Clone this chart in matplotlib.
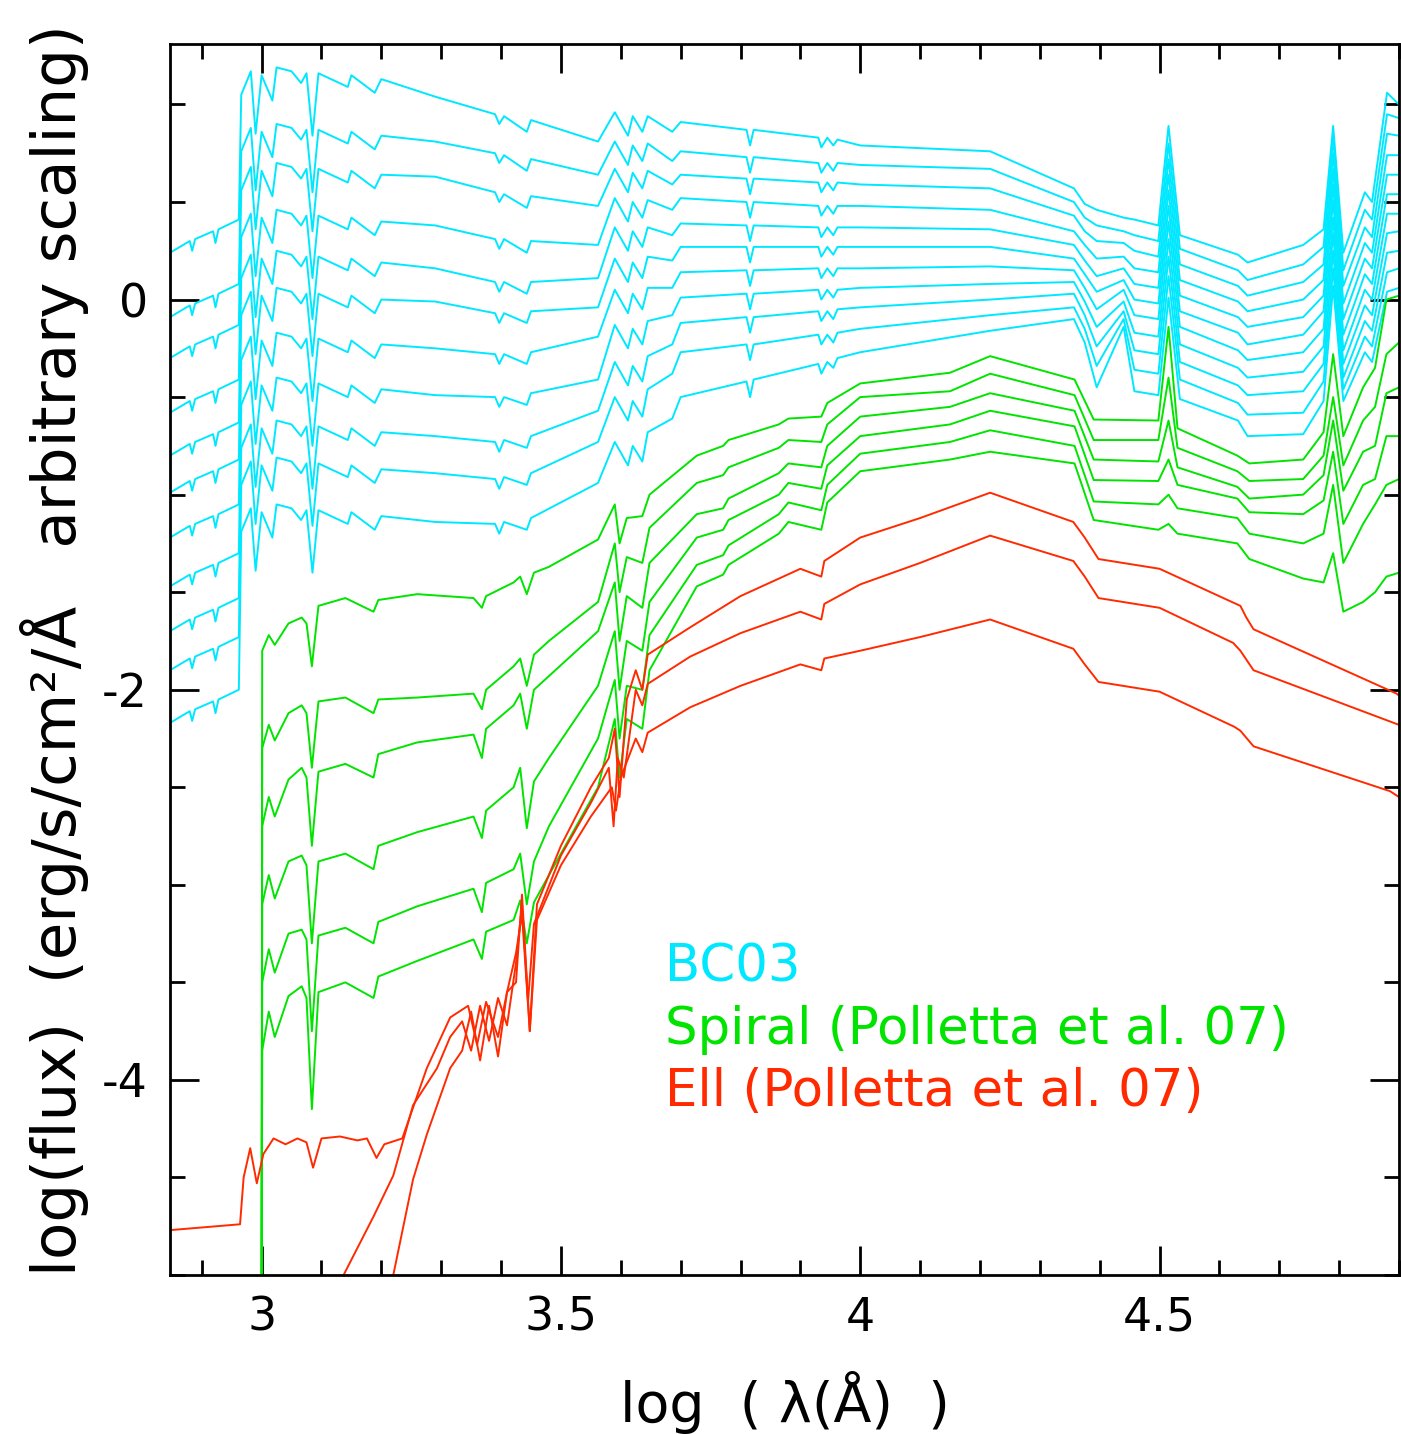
import numpy as np
import matplotlib
matplotlib.use("Agg")
import matplotlib.pyplot as plt
from matplotlib.ticker import MultipleLocator

# ---------------- data ----------------
# BC03 templates: shared log-wavelength knots, one row per knot, 11 curves per row
bc03_logwl = [2.847, 2.880, 2.884, 2.889, 2.919, 2.923, 2.928, 2.962, 2.966, 2.982,
              2.990, 3.000, 3.018, 3.025, 3.050, 3.066, 3.075, 3.085, 3.095, 3.144,
              3.150, 3.189, 3.200, 3.290, 3.390, 3.397, 3.405, 3.443, 3.450, 3.562,
              3.590, 3.612, 3.620, 3.636, 3.645, 3.686, 3.700, 3.810, 3.816, 3.822,
              3.930, 3.935, 3.945, 3.955, 3.962, 4.000, 4.217, 4.357, 4.375, 4.395,
              4.440, 4.458, 4.498, 4.515, 4.534, 4.631, 4.647, 4.740, 4.774, 4.790,
              4.807, 4.843, 4.855, 4.880, 4.900]
bc03_flux = [
    [0.24, -0.09, -0.30, -0.58, -0.80, -0.99, -1.22, -1.47, -1.70, -1.90, -2.17],
    [0.30, -0.03, -0.24, -0.52, -0.74, -0.93, -1.16, -1.41, -1.64, -1.84, -2.11],
    [0.25, -0.08, -0.29, -0.57, -0.79, -0.98, -1.21, -1.46, -1.69, -1.89, -2.16],
    [0.31, -0.02, -0.23, -0.51, -0.73, -0.92, -1.15, -1.40, -1.63, -1.83, -2.10],
    [0.35, 0.02, -0.19, -0.47, -0.69, -0.88, -1.11, -1.36, -1.59, -1.79, -2.06],
    [0.29, -0.04, -0.25, -0.53, -0.75, -0.94, -1.17, -1.42, -1.65, -1.85, -2.12],
    [0.36, 0.03, -0.18, -0.46, -0.68, -0.87, -1.10, -1.35, -1.58, -1.78, -2.05],
    [0.41, 0.08, -0.13, -0.41, -0.63, -0.82, -1.05, -1.30, -1.53, -1.73, -2.00],
    [1.05, 0.76, 0.56, 0.32, 0.11, -0.08, -0.31, -0.54, -0.76, -0.95, -1.19],
    [1.17, 0.88, 0.68, 0.44, 0.23, 0.04, -0.19, -0.42, -0.64, -0.83, -1.07],
    [0.85, 0.56, 0.36, 0.12, -0.09, -0.28, -0.51, -0.74, -0.96, -1.15, -1.39],
    [1.15, 0.86, 0.66, 0.42, 0.21, 0.02, -0.21, -0.44, -0.66, -0.85, -1.09],
    [1.02, 0.73, 0.53, 0.29, 0.08, -0.11, -0.34, -0.57, -0.79, -0.98, -1.22],
    [1.19, 0.90, 0.70, 0.46, 0.25, 0.06, -0.17, -0.40, -0.62, -0.81, -1.05],
    [1.17, 0.88, 0.68, 0.44, 0.23, 0.04, -0.19, -0.42, -0.64, -0.83, -1.07],
    [1.11, 0.82, 0.62, 0.38, 0.17, -0.02, -0.25, -0.48, -0.70, -0.89, -1.13],
    [1.16, 0.87, 0.67, 0.43, 0.22, 0.03, -0.20, -0.43, -0.65, -0.84, -1.08],
    [0.84, 0.55, 0.35, 0.11, -0.10, -0.29, -0.52, -0.75, -0.97, -1.16, -1.40],
    [1.16, 0.87, 0.67, 0.43, 0.22, 0.03, -0.20, -0.43, -0.65, -0.84, -1.08],
    [1.09, 0.80, 0.60, 0.36, 0.15, -0.04, -0.27, -0.50, -0.72, -0.91, -1.15],
    [1.15, 0.86, 0.66, 0.42, 0.21, 0.02, -0.21, -0.44, -0.66, -0.85, -1.09],
    [1.06, 0.77, 0.57, 0.33, 0.12, -0.07, -0.30, -0.53, -0.75, -0.94, -1.18],
    [1.13, 0.84, 0.64, 0.40, 0.19, 0.00, -0.23, -0.46, -0.68, -0.87, -1.11],
    [1.04, 0.81, 0.63, 0.38, 0.16, -0.01, -0.25, -0.49, -0.70, -0.89, -1.14],
    [0.95, 0.75, 0.55, 0.31, 0.09, -0.07, -0.28, -0.50, -0.73, -0.92, -1.15],
    [0.90, 0.70, 0.50, 0.26, 0.04, -0.12, -0.33, -0.55, -0.78, -0.97, -1.20],
    [0.94, 0.74, 0.54, 0.31, 0.09, -0.07, -0.28, -0.50, -0.72, -0.91, -1.14],
    [0.86, 0.66, 0.47, 0.24, 0.03, -0.12, -0.33, -0.54, -0.76, -0.95, -1.18],
    [0.92, 0.72, 0.53, 0.30, 0.09, -0.06, -0.27, -0.48, -0.70, -0.89, -1.12],
    [0.81, 0.64, 0.48, 0.28, 0.11, -0.04, -0.19, -0.41, -0.57, -0.73, -0.94],
    [0.96, 0.81, 0.67, 0.52, 0.37, 0.21, 0.05, -0.13, -0.32, -0.50, -0.73],
    [0.84, 0.69, 0.55, 0.40, 0.25, 0.09, -0.07, -0.25, -0.44, -0.62, -0.85],
    [0.94, 0.79, 0.65, 0.50, 0.35, 0.19, 0.03, -0.15, -0.34, -0.52, -0.75],
    [0.86, 0.71, 0.57, 0.42, 0.27, 0.11, -0.05, -0.23, -0.42, -0.60, -0.83],
    [0.94, 0.80, 0.66, 0.51, 0.37, 0.22, 0.06, -0.11, -0.29, -0.46, -0.68],
    [0.86, 0.71, 0.59, 0.46, 0.33, 0.20, 0.06, -0.08, -0.23, -0.38, -0.61],
    [0.91, 0.76, 0.64, 0.52, 0.39, 0.27, 0.14, 0.01, -0.12, -0.27, -0.50],
    [0.87, 0.73, 0.62, 0.50, 0.38, 0.27, 0.15, 0.03, -0.09, -0.23, -0.42],
    [0.79, 0.65, 0.54, 0.42, 0.30, 0.19, 0.07, -0.05, -0.17, -0.31, -0.50],
    [0.87, 0.73, 0.62, 0.50, 0.38, 0.27, 0.15, 0.03, -0.09, -0.23, -0.41],
    [0.83, 0.70, 0.60, 0.48, 0.37, 0.27, 0.16, 0.05, -0.06, -0.18, -0.33],
    [0.78, 0.65, 0.55, 0.43, 0.32, 0.22, 0.11, 0.00, -0.11, -0.23, -0.38],
    [0.83, 0.70, 0.60, 0.48, 0.37, 0.27, 0.16, 0.05, -0.06, -0.18, -0.32],
    [0.79, 0.66, 0.56, 0.44, 0.33, 0.23, 0.12, 0.01, -0.10, -0.22, -0.35],
    [0.82, 0.70, 0.60, 0.48, 0.37, 0.27, 0.16, 0.05, -0.05, -0.17, -0.30],
    [0.79, 0.69, 0.59, 0.48, 0.37, 0.27, 0.16, 0.06, -0.04, -0.15, -0.27],
    [0.76, 0.67, 0.57, 0.46, 0.36, 0.27, 0.17, 0.08, 0.00, -0.08, -0.16],
    [0.57, 0.50, 0.43, 0.35, 0.28, 0.21, 0.15, 0.09, 0.03, -0.04, -0.10],
    [0.49, 0.42, 0.35, 0.28, 0.20, 0.13, 0.06, -0.01, -0.08, -0.15, -0.22],
    [0.46, 0.38, 0.30, 0.21, 0.12, 0.04, -0.05, -0.14, -0.24, -0.34, -0.45],
    [0.42, 0.35, 0.29, 0.22, 0.16, 0.10, 0.05, -0.01, -0.06, -0.10, -0.14],
    [0.41, 0.33, 0.25, 0.16, 0.08, 0.00, -0.08, -0.17, -0.26, -0.36, -0.47],
    [0.38, 0.30, 0.22, 0.14, 0.06, -0.02, -0.10, -0.19, -0.28, -0.38, -0.49],
    [0.89, 0.80, 0.72, 0.64, 0.56, 0.48, 0.40, 0.31, 0.22, 0.12, 0.01],
    [0.33, 0.26, 0.18, 0.10, 0.02, -0.06, -0.14, -0.23, -0.32, -0.41, -0.51],
    [0.23, 0.15, 0.07, -0.01, -0.09, -0.17, -0.26, -0.35, -0.44, -0.53, -0.62],
    [0.19, 0.10, 0.02, -0.06, -0.14, -0.23, -0.31, -0.40, -0.49, -0.59, -0.70],
    [0.28, 0.18, 0.09, 0.00, -0.09, -0.18, -0.27, -0.37, -0.47, -0.58, -0.69],
    [0.36, 0.27, 0.18, 0.10, 0.02, -0.06, -0.15, -0.24, -0.33, -0.42, -0.52],
    [0.89, 0.83, 0.75, 0.67, 0.59, 0.51, 0.42, 0.34, 0.25, 0.16, 0.07],
    [0.24, 0.15, 0.07, -0.02, -0.10, -0.18, -0.26, -0.33, -0.40, -0.46, -0.52],
    [0.55, 0.46, 0.37, 0.29, 0.21, 0.13, 0.05, -0.03, -0.11, -0.19, -0.27],
    [0.50, 0.41, 0.32, 0.24, 0.16, 0.08, 0.00, -0.08, -0.16, -0.24, -0.32],
    [1.06, 0.95, 0.85, 0.74, 0.64, 0.54, 0.44, 0.34, 0.24, 0.14, 0.04],
    [1.00, 0.93, 0.84, 0.74, 0.64, 0.54, 0.44, 0.35, 0.25, 0.16, 0.06],
]

# Spiral templates (Polletta et al. 07): shared knots, 6 curves per row
spiral_logwl = [3.000, 3.001, 3.012, 3.022, 3.045, 3.067, 3.075, 3.084, 3.095, 3.140,
                3.187, 3.195, 3.260, 3.354, 3.368, 3.375, 3.421, 3.432, 3.443, 3.455,
                3.480, 3.562, 3.590, 3.598, 3.610, 3.636, 3.648, 3.727, 3.771, 3.780,
                3.864, 3.880, 3.935, 3.945, 4.000, 4.150, 4.217, 4.358, 4.390, 4.498,
                4.515, 4.530, 4.630, 4.650, 4.740, 4.774, 4.790, 4.807, 4.840, 4.860,
                4.879, 4.900]
spiral_flux = [
    [-5.5, -5.5, -5.5, -5.5, -5.5, -5.5],
    [-1.80, -2.30, -2.70, -3.10, -3.50, -3.85],
    [-1.72, -2.18, -2.55, -2.95, -3.33, -3.65],
    [-1.77, -2.26, -2.65, -3.07, -3.45, -3.78],
    [-1.66, -2.12, -2.46, -2.88, -3.25, -3.57],
    [-1.63, -2.08, -2.40, -2.85, -3.23, -3.52],
    [-1.66, -2.12, -2.45, -2.90, -3.28, -3.58],
    [-1.88, -2.40, -2.80, -3.30, -3.75, -4.15],
    [-1.57, -2.06, -2.42, -2.88, -3.26, -3.55],
    [-1.53, -2.04, -2.38, -2.84, -3.22, -3.50],
    [-1.60, -2.12, -2.45, -2.92, -3.30, -3.58],
    [-1.54, -2.05, -2.33, -2.80, -3.19, -3.47],
    [-1.51, -2.04, -2.27, -2.73, -3.11, -3.39],
    [-1.53, -2.02, -2.23, -2.65, -3.02, -3.28],
    [-1.58, -2.10, -2.35, -2.76, -3.14, -3.38],
    [-1.52, -2.00, -2.20, -2.62, -2.99, -3.24],
    [-1.45, -1.88, -2.08, -2.50, -2.92, -3.18],
    [-1.42, -1.84, -2.02, -2.40, -2.84, -3.08],
    [-1.51, -1.98, -2.20, -2.71, -3.10, -3.30],
    [-1.40, -1.82, -2.00, -2.47, -2.88, -3.09],
    [-1.37, -1.75, -1.93, -2.35, -2.70, -2.95],
    [-1.23, -1.55, -1.70, -1.98, -2.25, -2.50],
    [-1.05, -1.25, -1.45, -1.70, -1.95, -2.15],
    [-1.25, -1.50, -1.75, -2.00, -2.25, -2.45],
    [-1.12, -1.32, -1.52, -1.75, -1.98, -2.15],
    [-1.11, -1.35, -1.58, -1.80, -2.00, -2.20],
    [-1.00, -1.17, -1.35, -1.55, -1.72, -1.90],
    [-0.80, -0.94, -1.10, -1.22, -1.36, -1.47],
    [-0.75, -0.90, -1.07, -1.18, -1.31, -1.41],
    [-0.72, -0.86, -1.02, -1.13, -1.26, -1.36],
    [-0.64, -0.76, -0.89, -1.00, -1.10, -1.20],
    [-0.61, -0.72, -0.84, -0.94, -1.04, -1.14],
    [-0.60, -0.73, -0.86, -0.97, -1.08, -1.18],
    [-0.53, -0.64, -0.75, -0.85, -0.95, -1.04],
    [-0.43, -0.50, -0.60, -0.70, -0.79, -0.88],
    [-0.375, -0.47, -0.55, -0.64, -0.73, -0.82],
    [-0.29, -0.38, -0.48, -0.57, -0.67, -0.78],
    [-0.41, -0.49, -0.57, -0.65, -0.75, -0.84],
    [-0.615, -0.72, -0.82, -0.925, -1.035, -1.13],
    [-0.62, -0.72, -0.83, -0.93, -1.05, -1.18],
    [-0.14, -0.40, -0.62, -0.82, -1.00, -1.15],
    [-0.66, -0.76, -0.86, -0.95, -1.07, -1.20],
    [-0.80, -0.88, -0.96, -1.02, -1.12, -1.25],
    [-0.84, -0.93, -1.02, -1.09, -1.20, -1.33],
    [-0.82, -0.92, -1.00, -1.10, -1.25, -1.43],
    [-0.68, -0.80, -0.90, -1.03, -1.20, -1.45],
    [-0.28, -0.50, -0.62, -0.78, -0.95, -1.30],
    [-0.70, -0.85, -0.98, -1.15, -1.35, -1.60],
    [-0.45, -0.62, -0.78, -0.95, -1.15, -1.55],
    [-0.35, -0.55, -0.75, -0.92, -1.05, -1.50],
    [0.00, -0.28, -0.48, -0.70, -0.95, -1.42],
    [0.02, -0.22, -0.45, -0.70, -0.92, -1.40],
]

# Elliptical templates (Polletta et al. 07): one curve each
ell_a_logwl = [3.20, 3.22, 3.253, 3.276, 3.315, 3.335, 3.35, 3.365, 3.38, 3.395, 3.41,
               3.425, 3.435, 3.448, 3.46, 3.50, 3.55, 3.58, 3.59, 3.598, 3.61, 3.625,
               3.636, 3.645, 3.716, 3.80, 3.90, 3.935, 3.94, 4.0, 4.10, 4.217, 4.356,
               4.375, 4.398, 4.50, 4.635, 4.645, 4.657, 4.896, 4.90]
ell_a_flux = [-5.4, -5.0, -4.51, -4.28, -3.94, -3.85, -3.65, -3.90, -3.62, -3.88, -3.55,
              -3.50, -3.05, -3.75, -3.10, -2.80, -2.50, -2.35, -2.20, -2.55, -2.05, -1.90,
              -2.00, -1.82, -1.68, -1.52, -1.38, -1.42, -1.34, -1.22, -1.12, -0.99, -1.14,
              -1.22, -1.33, -1.38, -1.57, -1.63, -1.69, -2.02, -2.03]
ell_b_logwl = [3.12, 3.137, 3.187, 3.22, 3.253, 3.293, 3.315, 3.335, 3.35, 3.365, 3.38,
               3.395, 3.41, 3.425, 3.435, 3.445, 3.455, 3.50, 3.55, 3.58, 3.588, 3.595,
               3.605, 3.625, 3.636, 3.645, 3.716, 3.80, 3.90, 3.935, 3.94, 4.0, 4.10,
               4.217, 4.356, 4.375, 4.398, 4.50, 4.623, 4.635, 4.657, 4.90]
ell_b_flux = [-5.3, -5.0, -4.70, -4.49, -4.13, -3.94, -3.78, -3.70, -3.85, -3.62, -3.80,
              -3.58, -3.72, -3.40, -3.10, -3.60, -3.20, -2.85, -2.58, -2.40, -2.70, -2.35,
              -2.45, -2.00, -2.08, -1.97, -1.83, -1.71, -1.60, -1.64, -1.56, -1.46, -1.35,
              -1.21, -1.34, -1.42, -1.53, -1.58, -1.76, -1.80, -1.90, -2.18]
ell_c_logwl = [2.847, 2.964, 2.970, 2.981, 2.992, 3.003, 3.020, 3.040, 3.060, 3.075,
               3.086, 3.100, 3.131, 3.160, 3.176, 3.192, 3.205, 3.235, 3.276, 3.315,
               3.345, 3.360, 3.375, 3.395, 3.410, 3.425, 3.435, 3.448, 3.460, 3.500,
               3.550, 3.585, 3.592, 3.600, 3.625, 3.636, 3.645, 3.716, 3.80, 3.90,
               3.935, 3.94, 4.0, 4.10, 4.217, 4.356, 4.375, 4.398, 4.50, 4.625, 4.635,
               4.657, 4.885, 4.90]
ell_c_flux = [-4.77, -4.74, -4.50, -4.35, -4.53, -4.38, -4.30, -4.33, -4.30, -4.32,
              -4.45, -4.30, -4.29, -4.31, -4.30, -4.40, -4.33, -4.30, -3.94, -3.68,
              -3.62, -3.82, -3.60, -3.78, -3.55, -3.35, -3.15, -3.75, -3.18, -2.90,
              -2.65, -2.50, -2.62, -2.45, -2.25, -2.32, -2.22, -2.09, -1.98, -1.87,
              -1.90, -1.84, -1.80, -1.73, -1.64, -1.79, -1.87, -1.96, -2.01, -2.19, -2.21,
              -2.29, -2.52, -2.55]

legend_labels = ["BC03", "Spiral (Polletta et al. 07)", "Ell (Polletta et al. 07)"]
family_colors = ["#00E8FF", "#00E400", "#FF2A00"]

# ---------------- plot ----------------
plt.rcParams['font.family'] = ['DejaVu Sans']
fig = plt.figure(figsize=(14.01, 14.34), dpi=100)
ax = fig.add_axes([170/1401, (1434-1275)/1434, 1229/1401, 1231/1434])

lw = 1.4
bc = np.array(bc03_flux).T
for row in bc:
    ax.plot(bc03_logwl, row, color=family_colors[0], lw=lw)
sp = np.array(spiral_flux).T
for row in sp:
    ax.plot(spiral_logwl, row, color=family_colors[1], lw=lw)
for xs, ys in [(ell_a_logwl, ell_a_flux), (ell_b_logwl, ell_b_flux), (ell_c_logwl, ell_c_flux)]:
    ax.plot(xs, ys, color=family_colors[2], lw=lw)

ax.set_xlim(2.847, 4.9)
ax.set_ylim(-5.0, 1.31)
ax.xaxis.set_minor_locator(MultipleLocator(0.1))
ax.yaxis.set_minor_locator(MultipleLocator(0.5))
ax.set_xticks([3, 3.5, 4, 4.5])
ax.set_xticklabels(["3", "3.5", "4", "4.5"])
ax.set_yticks([-4, -2, 0])
ax.set_yticklabels(["-4", "-2", "0"])
ax.tick_params(which='both', direction='in', top=True, right=True, width=2.0,
               labelsize=33)
ax.tick_params(which='major', length=21)
ax.tick_params(which='minor', length=11)
ax.tick_params(axis='x', which='major', pad=15)
ax.tick_params(axis='y', which='major', pad=16)
for s in ax.spines.values():
    s.set_linewidth(2.0)

fig.text(785/1401, (1434-1402)/1434, "log  ( \u03bb(\u00c5)  )", ha='center', va='center',
         fontsize=40)
fig.text(55/1401, (1434-650)/1434,
         "log(flux)  (erg/s/cm\u00b2/\u00c5   arbitrary scaling)",
         rotation=90, ha='center', va='center', fontsize=44)

ys = [0.2494, 0.199, 0.1487]
for lab, col, yy in zip(legend_labels, family_colors, ys):
    ax.text(0.4028, yy, lab, color=col, transform=ax.transAxes, fontsize=37,
            ha='left', va='center')

fig.savefig("out.png", dpi=100)
